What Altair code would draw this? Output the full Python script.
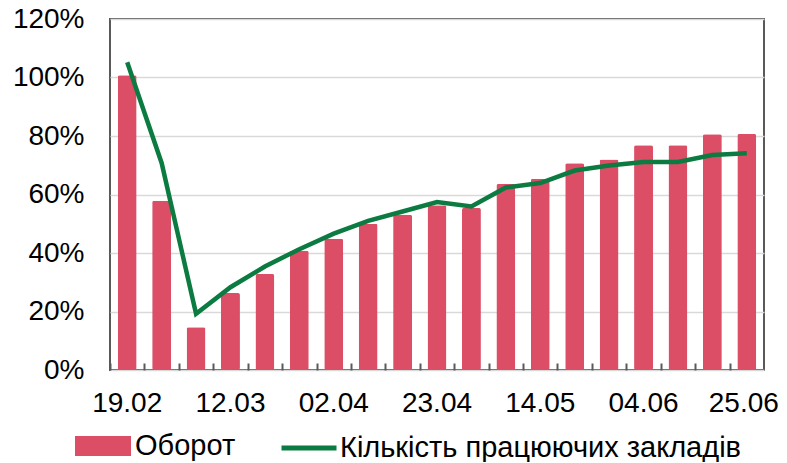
import altair as alt
import pandas as pd

dates = ["19.02", "26.02", "05.03", "12.03", "19.03", "26.03", "02.04", "09.04",
         "16.04", "23.04", "30.04", "07.05", "14.05", "21.05", "28.05", "04.06",
         "11.06", "18.06", "25.06"]
turnover = [1.008, 0.579, 0.146, 0.263, 0.328, 0.408, 0.449, 0.500, 0.531, 0.563,
            0.554, 0.636, 0.654, 0.707, 0.720, 0.768, 0.768, 0.806, 0.807]
venues = [1.052, 0.708, 0.192, 0.283, 0.354, 0.413, 0.466, 0.510, 0.542, 0.574,
          0.559, 0.624, 0.639, 0.682, 0.699, 0.711, 0.711, 0.735, 0.741]
label_dates = dates[::3]
y_ticks = [0, 0.2, 0.4, 0.6, 0.8, 1.0, 1.2]
s_bar = "Оборот"
s_line = "Кількість працюючих закладів"

df = pd.DataFrame({"date": dates, "turnover": turnover, "venues": venues})
df["s1"] = s_bar
df["s2"] = s_line

FONT = "Liberation Sans"
RED = "#DC4D66"
GREEN = "#0B7B41"
FRAME = "#595959"
W, H = 654, 351

xscale = alt.Scale(paddingInner=0.45, paddingOuter=0.225)
yscale = alt.Scale(domain=[0, 1.2], nice=False, zero=True)

yaxis = alt.Axis(values=y_ticks, format=".0%", title=None, grid=True,
                 gridColor="#D9D9D9", gridWidth=1.5, ticks=False, domain=False,
                 labelPadding=26, labelFontSize=28, labelFont=FONT,
                 labelColor="black")

last_label = dates[-1]

base = alt.Chart(df)

bars = base.mark_bar(cornerRadius=2).encode(
    x=alt.X("date:N", sort=None, scale=xscale,
            axis=alt.Axis(values=label_dates, title=None, labelAngle=0, ticks=False,
                          domain=False, grid=False, labelPadding=19, labelFontSize=28,
                          labelFont=FONT, labelColor="black",
                          labelOffset={"condition": {"test": f"datum.label == '{last_label}'",
                                                     "value": -3}, "value": 0})),
    y=alt.Y("turnover:Q", scale=yscale, axis=yaxis),
    fill=alt.Fill("s1:N", scale=alt.Scale(domain=[s_bar], range=[RED]),
                  legend=alt.Legend(title=None, orient="none", legendX=-35, legendY=399,
                                    symbolType="M-1,-0.357H1V0.357H-1Z", symbolSize=3136,
                                    symbolStrokeWidth=0, labelFontSize=29, labelFont=FONT,
                                    labelColor="black", labelOffset=4, padding=0,
                                    labelLimit=600)),
)

line = base.mark_line(strokeWidth=4.5).encode(
    x=alt.X("date:N", sort=None, scale=xscale,
            axis=alt.Axis(orient="bottom", offset=-7, labels=False, domain=False,
                          ticks=True, tickSize=7, tickWidth=2, tickColor=FRAME,
                          bandPosition=0, tickOffset=-7.74, title=None, grid=False)),
    y=alt.Y("venues:Q", scale=yscale, axis=yaxis),
    stroke=alt.Stroke("s2:N", scale=alt.Scale(domain=[s_line], range=[GREEN]),
                      legend=alt.Legend(title=None, orient="none", legendX=169, legendY=399,
                                        symbolType="stroke", symbolSize=3025,
                                        symbolStrokeWidth=5, labelFontSize=29,
                                        labelFont=FONT, labelColor="black",
                                        labelOffset=1, padding=0, labelLimit=600)),
)

chart = alt.layer(bars, line).resolve_axis(x="independent").properties(
    width=W, height=H,
    autosize=alt.AutoSizeParams(type="none"),
    padding={"left": 102, "top": 11, "right": 15, "bottom": 92},
).configure_view(stroke=FRAME, strokeWidth=2)

chart.save("out.html", embed_options={"renderer": "svg", "actions": False})
